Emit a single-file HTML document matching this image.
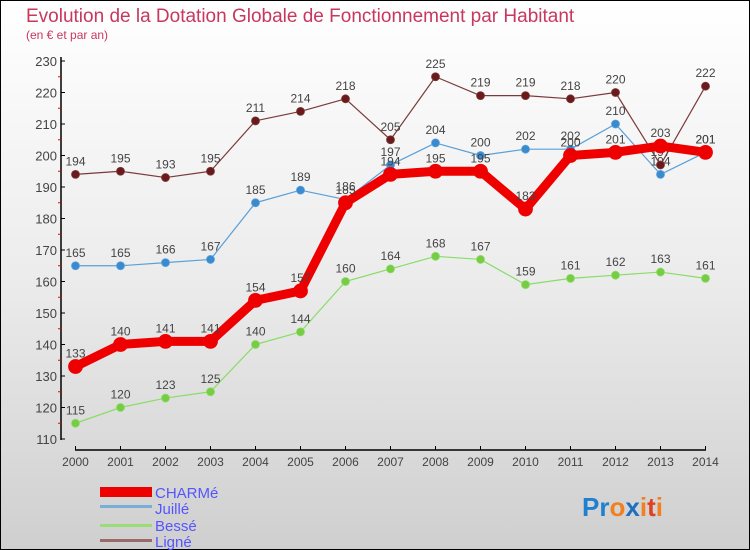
<!DOCTYPE html>
<html><head><meta charset="utf-8"><style>
html,body{margin:0;padding:0}
body{width:750px;height:550px;overflow:hidden;font-family:"Liberation Sans",sans-serif}
#wrap{position:absolute;left:0;top:0;width:748px;height:548px;border:1px solid #000;background:linear-gradient(#ffffff 0%,#ececec 50%,#cfcfcf 100%)}
</style></head><body>
<div id="wrap">
<svg id="chart" width="750" height="550" style="position:absolute;left:-1px;top:-1px">
<text x="26" y="22" font-size="19" fill="#c8375e">Evolution de la Dotation Globale de Fonctionnement par Habitant</text>
<text x="26" y="39" font-size="12" fill="#c8375e">(en € et par an)</text>
<g id="axes"></g><g id="series"></g>
<g>
<rect x="100" y="487" width="52" height="10" fill="#e00"/>
<text x="155" y="498" font-size="15" fill="#5555ff">CHARMé</text>
<rect x="100" y="505" width="52" height="3" fill="#7aaed6"/>
<text x="155" y="514" font-size="15" fill="#5555ff">Juillé</text>
<rect x="100" y="524" width="52" height="3" fill="#99dd77"/>
<text x="155" y="531" font-size="15" fill="#5555ff">Bessé</text>
<rect x="100" y="539" width="52" height="3" fill="#9a6a6a"/>
<text x="155" y="547" font-size="15" fill="#5555ff">Ligné</text>
</g>
<text x="582" y="516" font-size="26" font-weight="bold"><tspan fill="#1f7fd0">Pr</tspan><tspan fill="#f08020">o</tspan><tspan fill="#1f6fc0">x</tspan><tspan fill="#f08020">i</tspan><tspan fill="#e04020">t</tspan><tspan fill="#f08020">i</tspan></text>
</svg>
</div>
<script>
const years=[2000,2001,2002,2003,2004,2005,2006,2007,2008,2009,2010,2011,2012,2013,2014];
const charme=[133,140,141,141,154,157,185,194,195,195,183,200,201,203,201];
const juille=[165,165,166,167,185,189,186,197,204,200,202,202,210,194,201];
const besse=[115,120,123,125,140,144,160,164,168,167,159,161,162,163,161];
const ligne=[194,195,193,195,211,214,218,205,225,219,219,218,220,197,222];
const yTicks=[110,120,130,140,150,160,170,180,190,200,210,220,230];
const NS="http://www.w3.org/2000/svg";
const xS=i=>75.5+i*(705.5-75.5)/(years.length-1);
const yS=v=>61+(230-v)*31.5/10;
function mk(tag,attrs,parent){const e=document.createElementNS(NS,tag);for(const k in attrs)e.setAttribute(k,attrs[k]);parent.appendChild(e);return e;}
const ax=document.getElementById('axes');
let a=mk('line',{x1:61,y1:57,x2:61,y2:440,stroke:'#000','stroke-width':1.5},ax);


a=mk('line',{x1:75,y1:450,x2:706,y2:450,stroke:'#000','stroke-width':1.5},ax);


yTicks.forEach(v=>{
 mk('line',{x1:61,y1:yS(v),x2:65,y2:yS(v),stroke:'#000'},ax);
 if(v<230)mk('line',{x1:58,y1:yS(v+5),x2:61,y2:yS(v+5),stroke:'#e00'},ax);
 const t=mk('text',{x:57,y:yS(v)+5,'font-size':13,'text-anchor':'end',fill:'#444'},ax);t.textContent=v;
 
 
});
years.forEach((y,i)=>{
 mk('line',{x1:xS(i),y1:446,x2:xS(i),y2:450,stroke:'#000'},ax);
 const t=mk('text',{x:xS(i),y:466,'font-size':12,'text-anchor':'middle',fill:'#444'},ax);t.textContent=y;
 
 
});
const sg=document.getElementById('series');
function draw(name,data,color,w,r,dot){
 const g=mk('g',{},sg);
 
 
 const p=mk('polyline',{points:data.map((v,i)=>xS(i)+','+yS(v)).join(' '),fill:'none',stroke:color,'stroke-width':w,'stroke-linejoin':'round'},g);
 
 
 data.forEach((v,i)=>{
  const c=mk('circle',{cx:xS(i),cy:yS(v),r:r,fill:dot,stroke:color,'stroke-width':0.8},g);
  
  
  const t=mk('text',{x:xS(i),y:yS(v)-9,'font-size':12,'text-anchor':'middle',fill:'#444'},g);t.textContent=v;
  
  
 });
}
draw('besse',besse,'#88dd66',1.2,4,'#77cc44');
draw('juille',juille,'#5aa0d8',1.2,4,'#3a8ad0');
draw('ligne',ligne,'#7a3a3a',1.2,4,'#6a1a1a');
draw('charme',charme,'#ee0000',9,7,'#ee0000');
</script>
</body></html>
